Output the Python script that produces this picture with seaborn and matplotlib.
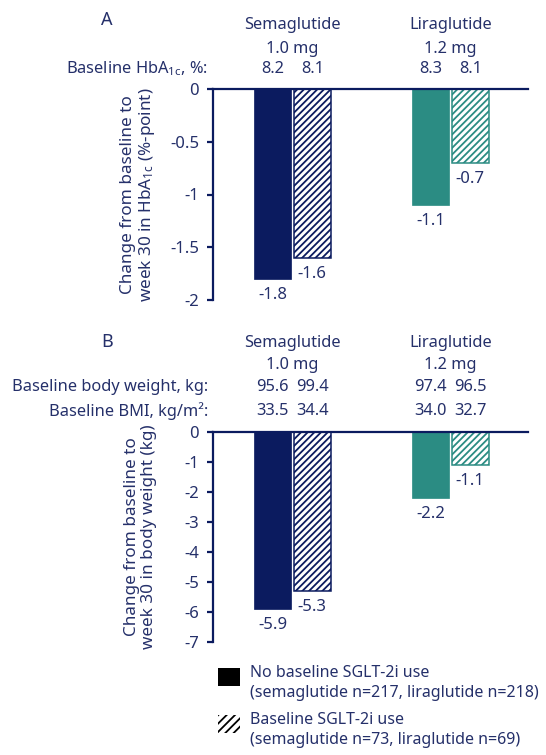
import matplotlib
matplotlib.use("Agg")
import matplotlib.pyplot as plt
import matplotlib.patches as mpatches
from matplotlib.transforms import blended_transform_factory
import seaborn as sns
import pandas as pd

# ---------------------------------------------------------------------------
# Data
# ---------------------------------------------------------------------------
drugs = ["Semaglutide", "Liraglutide"]
doses = ["1.0 mg", "1.2 mg"]
groups = ["No baseline SGLT-2i use", "Baseline SGLT-2i use"]

# order: [sema no-SGLT, sema SGLT, lira no-SGLT, lira SGLT]
hba1c_change = [-1.8, -1.6, -1.1, -0.7]
weight_change = [-5.9, -5.3, -2.2, -1.1]
hba1c_baseline = [8.2, 8.1, 8.3, 8.1]
weight_baseline = [95.6, 99.4, 97.4, 96.5]
bmi_baseline = [33.5, 34.4, 34.0, 32.7]

ticks_a = [0, -0.5, -1, -1.5, -2]
ticks_b = [0, -1, -2, -3, -4, -5, -6, -7]

legend_lines = [
    "No baseline SGLT-2i use\n(semaglutide n=217, liraglutide n=218)",
    "Baseline SGLT-2i use\n(semaglutide n=73, liraglutide n=69)",
]

# ---------------------------------------------------------------------------
# Style
# ---------------------------------------------------------------------------
NAVY = "#0b1b5f"
TEAL = "#2b8c83"
TEXT = "#25306a"
FS = 11.8
FS_TICK = 12

sns.set_style("white")
plt.rcParams.update({
    "font.family": ["Noto Sans", "DejaVu Sans"],
    "mathtext.fontset": "custom",
    "mathtext.rm": "Noto Sans",
    "mathtext.it": "Noto Sans",
    "text.color": TEXT,
    "axes.labelcolor": TEXT,
    "xtick.color": TEXT,
    "ytick.color": TEXT,
    "hatch.linewidth": 1.3,
    "axes.unicode_minus": False,
})

W, H = 546, 755
fig = plt.figure(figsize=(W / 100, H / 100), dpi=100)


def px_box(x0, y0, x1, y1):
    return [x0 / W, 1 - y1 / H, (x1 - x0) / W, (y1 - y0) / H]


def frame(rows):
    return pd.DataFrame({
        "drug": [d for d in drugs for _ in groups],
        "group": groups * len(drugs),
        "value": rows,
    })


def draw_panel(ax, values, ticks, ylabel):
    sns.barplot(
        data=frame(values), x="drug", y="value", hue="group",
        hue_order=groups, order=drugs, width=0.5, gap=0.06,
        errorbar=None, legend=False, ax=ax,
    )
    for p in ax.patches:
        cx = p.get_x() + p.get_width() / 2
        d = int(round(cx))
        col = NAVY if d == 0 else TEAL
        if cx > d:
            # baseline SGLT-2i use: hatched, outlined
            p.set_facecolor("white")
            p.set_edgecolor(col)
            p.set_hatch("/////")
            p.set_linewidth(1.1)
        else:
            p.set_facecolor(col)
            p.set_edgecolor(col)
            p.set_linewidth(0.5)
    for c in ax.containers:
        ax.bar_label(c, fmt="%.1f", padding=6, fontsize=FS_TICK, color=TEXT)

    ax.set_xlim(-0.503, 1.49)
    ax.set_ylim(ticks[-1], 0)
    ax.set_yticks(ticks)
    ax.set_yticklabels([f"{t:g}" for t in ticks])
    ax.set_xticks([])
    ax.set_xlabel("")
    ax.set_ylabel(ylabel, fontsize=12.3, linespacing=1.05)
    ax.yaxis.set_label_coords(-0.178, 0.5)
    for s in ["bottom", "right"]:
        ax.spines[s].set_visible(False)
    for s in ["left", "top"]:
        ax.spines[s].set_color(NAVY)
        ax.spines[s].set_linewidth(1.6)
    ax.tick_params(axis="y", direction="out", length=4, width=1.6,
                   color=NAVY, labelsize=FS_TICK, pad=6, left=True)


def header(ax, ypx, texts, xs, **kw):
    tr = blended_transform_factory(ax.transData, fig.transFigure)
    for t, x in zip(texts, xs):
        ax.text(x, 1 - ypx / H, t, transform=tr, ha="center", va="center",
                fontsize=FS, **kw)


def row_label(ypx, text):
    fig.text(208 / W, 1 - ypx / H, text, ha="right", va="center", fontsize=FS)


bar_x = [-0.125, 0.125, 0.875, 1.125]

# Panel A
ax_a = fig.add_axes(px_box(213, 89, 528, 300))
draw_panel(ax_a, hba1c_change, ticks_a,
           "Change from baseline to\nweek 30 in HbA$_\\mathregular{1c}$ (%-point)")
fig.text(107 / W, 1 - 20 / H, "A", ha="center", va="center", fontsize=13)
header(ax_a, 25, drugs, [0, 1])
header(ax_a, 49, doses, [0, 1])
header(ax_a, 69, [f"{v:.1f}" for v in hba1c_baseline], bar_x)
row_label(69, "Baseline HbA$_\\mathregular{1c}$, %:")

# Panel B
ax_b = fig.add_axes(px_box(213, 432, 528, 642))
draw_panel(ax_b, weight_change, ticks_b,
           "Change from baseline to\nweek 30 in body weight (kg)")
fig.text(107 / W, 1 - 342 / H, "B", ha="center", va="center", fontsize=13)
header(ax_b, 343, drugs, [0, 1])
header(ax_b, 365, doses, [0, 1])
header(ax_b, 387, [f"{v:.1f}" for v in weight_baseline], bar_x)
header(ax_b, 411, [f"{v:.1f}" for v in bmi_baseline], bar_x)
row_label(387, "Baseline body weight, kg:")
row_label(411, "Baseline BMI, kg/m²:")

# Legend (manual, handle aligned with first text line)
for i, (label, hatch) in enumerate(zip(legend_lines, [None, "////"])):
    top = 668 + i * 47
    sq = mpatches.Rectangle((218 / W, 1 - (top + 18) / H), 22 / W, 18 / H,
                            transform=fig.transFigure,
                            facecolor="white" if hatch else "black",
                            edgecolor="black", linewidth=0, hatch=hatch)
    fig.patches.append(sq)
    fig.text(250 / W, 1 - (top - 3) / H, label, ha="left", va="top",
             fontsize=11.5, linespacing=1.3)

fig.savefig("out.png", dpi=100)
